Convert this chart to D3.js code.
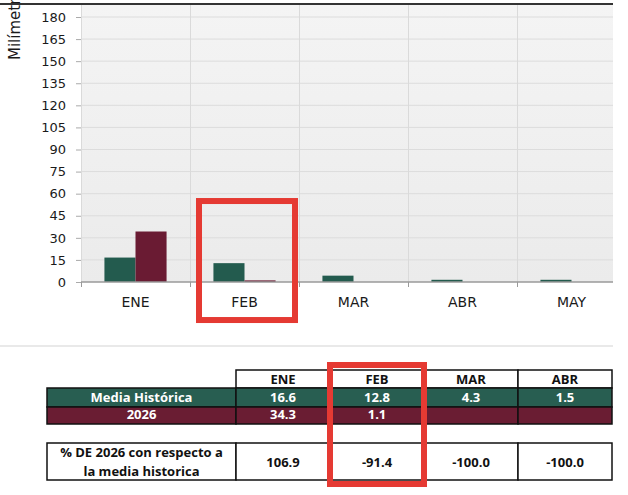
<!DOCTYPE html>
<html>
<head>
<meta charset="utf-8">
<script src="https://cdn.jsdelivr.net/npm/d3@7"></script>
<style>
  body { margin: 0; background: #fff; }
  svg { display: block; }
  text { font-family: "DejaVu Sans", sans-serif; }
  .tbl text { font-family: "Open Sans", sans-serif; font-weight: 700; font-size: 13px; }
</style>
</head>
<body>
<div id="graph"></div>
<script>
const months = ["ENE", "FEB", "MAR", "ABR", "MAY"];
const mediaHist = [16.6, 12.8, 4.3, 1.5, 1.5];
const lluvia2026 = [34.3, 1.1, null, null, null];
const tableMonths = ["ENE", "FEB", "MAR", "ABR"];
const tableHist = ["16.6", "12.8", "4.3", "1.5"];
const table2026 = ["34.3", "1.1", "", ""];
const tablePct = ["106.9", "-91.4", "-100.0", "-100.0"];
const yTicks = [0, 15, 30, 45, 60, 75, 90, 105, 120, 135, 150, 165, 180];
const series = ["hist", "y2026"];

const W = 628, H = 495;
const green = "#235b4e", wine = "#6a1b33";
const plot = { left: 81, right: 613, top: 5, bottom: 282 };
const catW = 109;

const svg = d3.select("#graph").append("svg").attr("width", W).attr("height", H);

const x = d3.scaleBand().domain(months).range([plot.left, plot.left + catW * months.length]);
const xs = d3.scaleBand().domain(series).range([x.bandwidth() * 0.215, x.bandwidth() * 0.785]);
const y = d3.scaleLinear().domain([0, 180]).range([plot.bottom, 17]);

svg.append("clipPath").attr("id", "clip")
  .append("rect").attr("x", plot.left).attr("y", 0).attr("width", plot.right - plot.left).attr("height", plot.bottom + 10);

const grad = svg.append("defs").append("linearGradient").attr("id", "bg").attr("x1", 0).attr("x2", 0).attr("y1", 0).attr("y2", 1);
grad.append("stop").attr("offset", 0).attr("stop-color", "#f4f4f4");
grad.append("stop").attr("offset", 1).attr("stop-color", "#ebebeb");

svg.append("rect")
  .attr("x", plot.left).attr("y", plot.top)
  .attr("width", plot.right - plot.left).attr("height", plot.bottom - plot.top)
  .attr("fill", "url(#bg)");

// horizontal grid
svg.append("g").selectAll("line").data(yTicks.slice(1)).join("line")
  .attr("x1", plot.left).attr("x2", plot.right)
  .attr("y1", (d) => y(d)).attr("y2", (d) => y(d))
  .attr("stroke", "#dcdcdc").attr("stroke-width", 1);

// vertical grid at category boundaries
svg.append("g").attr("clip-path", "url(#clip)").selectAll("line").data(months).join("line")
  .attr("x1", (d) => x(d) + 0.5).attr("x2", (d) => x(d) + 0.5)
  .attr("y1", plot.top).attr("y2", plot.bottom)
  .attr("stroke", "#dadada");

// bars
const groups = svg.append("g").attr("clip-path", "url(#clip)").selectAll("g").data(months).join("g")
  .attr("transform", (d) => `translate(${x(d)},0)`);
groups.selectAll("rect")
  .data((d, i) => [{ k: "hist", v: mediaHist[i] }, { k: "y2026", v: lluvia2026[i] }].filter((e) => e.v != null))
  .join("rect")
  .attr("x", (d) => xs(d.k))
  .attr("width", xs.bandwidth())
  .attr("y", (d) => y(d.v))
  .attr("height", (d) => y(0) - y(d.v))
  .attr("fill", (d) => (d.k === "hist" ? green : wine));

// y axis
const yAxis = svg.append("g").attr("transform", `translate(${plot.left},0)`)
  .call(d3.axisLeft(y).tickValues(yTicks).tickSize(5).tickPadding(10));
yAxis.select(".domain").remove();
yAxis.selectAll(".tick line").attr("stroke", "#aaa");
yAxis.selectAll("text").attr("font-size", 13).attr("fill", "#1a1a1a").attr("font-family", "DejaVu Sans, sans-serif");

// x axis
const xAxis = svg.append("g").attr("transform", `translate(0,${plot.bottom})`);
xAxis.append("line").attr("x1", plot.left).attr("x2", plot.right).attr("stroke", "#9a9a9a").attr("stroke-width", 1.5);
xAxis.selectAll(".tk").data(months).join("line").attr("class", "tk")
  .attr("x1", (d) => x(d) + 0.5).attr("x2", (d) => x(d) + 0.5)
  .attr("y1", 0).attr("y2", 5).attr("stroke", "#9a9a9a");
xAxis.selectAll("text").data(months).join("text")
  .attr("x", (d) => x(d) + x.bandwidth() / 2)
  .attr("y", 25)
  .attr("text-anchor", "middle")
  .attr("font-size", 14)
  .attr("fill", "#1a1a1a")
  .text((d) => d);

// y title (cut at top, as in the source)
svg.append("text")
  .attr("transform", "translate(20,60) rotate(-90)")
  .attr("font-size", 15).attr("fill", "#1a1a1a")
  .text("Milímetros");

// top rule and separator
svg.append("line").attr("x1", 0).attr("x2", plot.right).attr("y1", 4).attr("y2", 4).attr("stroke", "#333").attr("stroke-width", 2);
svg.append("line").attr("x1", 0).attr("x2", plot.right).attr("y1", 346).attr("y2", 346).attr("stroke", "#e2e2e2").attr("stroke-width", 1.5);

// table
const tbl = svg.append("g").attr("class", "tbl");
const tx = d3.scaleBand().domain(tableMonths).range([236, 612]);
const labelX = 47;
const rows = { head: [370, 388], hist: [388, 407], y26: [407, 424], pct: [443, 480] };
const lineCol = "#111";

// header cells
tbl.selectAll(".hd").data(tableMonths).join("rect").attr("class", "hd")
  .attr("x", (d) => tx(d)).attr("y", rows.head[0]).attr("width", tx.bandwidth()).attr("height", rows.head[1] - rows.head[0])
  .attr("fill", "#fff").attr("stroke", lineCol).attr("stroke-width", 1.5);
tbl.selectAll(".hdt").data(tableMonths).join("text").attr("class", "hdt")
  .attr("x", (d) => tx(d) + tx.bandwidth() / 2).attr("y", rows.head[1] - 4.5)
  .attr("text-anchor", "middle").attr("fill", "#111").text((d) => d);

function colorRow(r, fill, label, vals) {
  tbl.append("rect").attr("x", labelX).attr("y", r[0]).attr("width", 236 - labelX).attr("height", r[1] - r[0])
    .attr("fill", fill).attr("stroke", lineCol).attr("stroke-width", 1.5);
  tbl.append("text").attr("x", (labelX + 236) / 2).attr("y", r[1] - 5).attr("text-anchor", "middle").attr("fill", "#fff").text(label);
  const g = tbl.append("g");
  g.selectAll("rect").data(tableMonths).join("rect")
    .attr("x", (d) => tx(d)).attr("y", r[0]).attr("width", tx.bandwidth()).attr("height", r[1] - r[0])
    .attr("fill", fill).attr("stroke", lineCol).attr("stroke-width", 1.5);
  g.selectAll("text").data(tableMonths).join("text")
    .attr("x", (d) => tx(d) + tx.bandwidth() / 2).attr("y", r[1] - 5)
    .attr("text-anchor", "middle").attr("fill", "#fff").text((d, i) => vals[i]);
}
colorRow(rows.hist, "#285e51", "Media Histórica", tableHist);
colorRow(rows.y26, "#6a1d33", "2026", table2026);

// percentage row
tbl.append("rect").attr("x", labelX).attr("y", rows.pct[0]).attr("width", 236 - labelX).attr("height", rows.pct[1] - rows.pct[0])
  .attr("fill", "#fff").attr("stroke", lineCol).attr("stroke-width", 1.5);
const pl = tbl.append("text").attr("text-anchor", "middle").attr("fill", "#111");
pl.append("tspan").attr("x", (labelX + 236) / 2).attr("y", 457).text("% DE 2026 con respecto a");
pl.append("tspan").attr("x", (labelX + 236) / 2).attr("y", 476).text("la media historica");
const pg = tbl.append("g");
pg.selectAll("rect").data(tableMonths).join("rect")
  .attr("x", (d) => tx(d)).attr("y", rows.pct[0]).attr("width", tx.bandwidth()).attr("height", rows.pct[1] - rows.pct[0])
  .attr("fill", "#fff").attr("stroke", lineCol).attr("stroke-width", 1.5);
pg.selectAll("text").data(tableMonths).join("text")
  .attr("x", (d) => tx(d) + tx.bandwidth() / 2).attr("y", (rows.pct[0] + rows.pct[1]) / 2 + 5)
  .attr("text-anchor", "middle").attr("fill", "#111").text((d, i) => tablePct[i]);

// red highlight boxes around FEB
const hl = svg.append("g").attr("fill", "none").attr("stroke", "#e53a33").attr("stroke-width", 6);
hl.append("rect").attr("x", x("FEB") + 9).attr("y", y(55)).attr("width", 96).attr("height", 119);
hl.append("rect").attr("x", tx("FEB")).attr("y", 365).attr("width", tx.bandwidth()).attr("height", 119);
</script>
</body>
</html>
